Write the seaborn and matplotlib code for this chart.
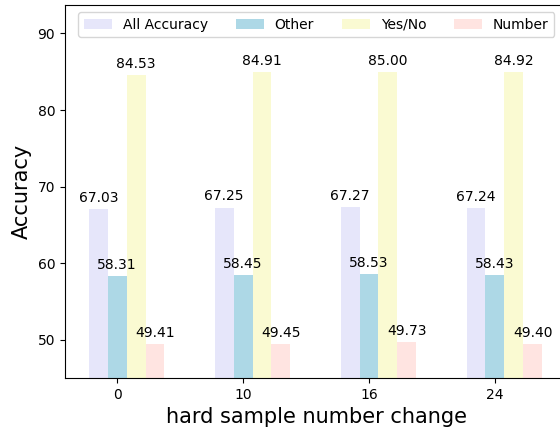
import numpy as np
import pandas as pd
import seaborn as sns
import matplotlib
matplotlib.use("Agg")
import matplotlib.pyplot as plt

# hard sample number settings on the x axis
groups = ["0", "10", "16", "24"]
series = ["All Accuracy", "Other", "Yes/No", "Number"]

all_acc = [67.03, 67.25, 67.27, 67.24]
other = [58.31, 58.45, 58.53, 58.43]
yes_no = [84.53, 84.91, 85.00, 84.92]
number = [49.41, 49.45, 49.73, 49.40]

colors = ["lavender", "lightblue", "lightgoldenrodyellow", "mistyrose"]

rows = []
for name, vals in zip(series, [all_acc, other, yes_no, number]):
    for g, v in zip(groups, vals):
        rows.append({"change": g, "acc": v, "type": name})
df = pd.DataFrame(rows)

fig = plt.figure(figsize=(5.6, 4.28), dpi=100)
ax = fig.add_axes([0.116, 0.117, 0.898, 0.871])

sns.barplot(data=df, x="change", y="acc", hue="type", hue_order=series,
            order=groups, palette=colors, saturation=1, width=0.6,
            linewidth=0, ax=ax)

for cont in ax.containers:
    ax.bar_label(cont, fmt="%.2f", padding=3, fontsize=10)

# ticks sit under the second bar of each group
ax.set_xticks(np.arange(len(groups)) - 0.075)
ax.set_xticklabels(groups, fontsize=10)
ax.tick_params(axis="y", labelsize=10)
ax.set_xlim(-0.49, 3.505)
ax.set_ylim(45, 93.7)
ax.set_yticks([50, 60, 70, 80, 90])

ax.set_xlabel("hard sample number change", fontsize=15)
ax.set_ylabel("Accuracy", fontsize=15)

sns.move_legend(ax, "upper center", ncol=4, title=None, fontsize=10, frameon=True)

fig.savefig("out.png", dpi=100)
